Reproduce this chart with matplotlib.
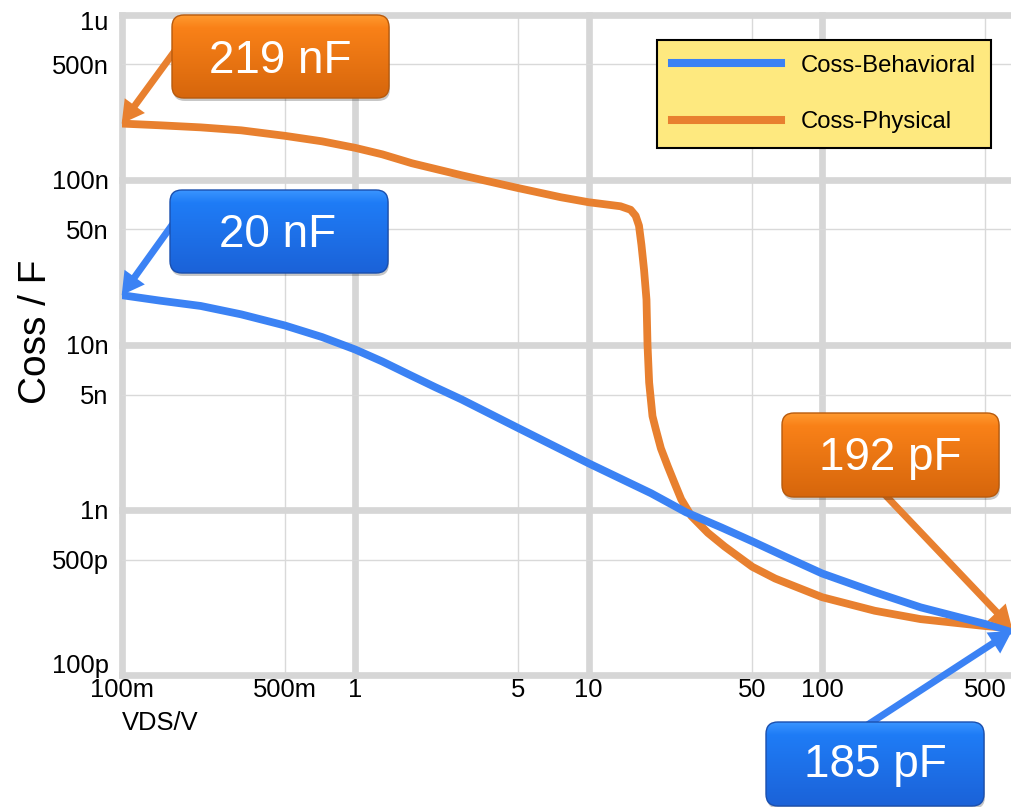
import numpy as np
import matplotlib
matplotlib.use("Agg")
import matplotlib.pyplot as plt
from matplotlib.patches import FancyBboxPatch
from matplotlib.ticker import FixedLocator, FixedFormatter
from matplotlib.colors import to_rgb
from matplotlib.lines import Line2D
from matplotlib.transforms import ScaledTranslation

plt.rcParams['font.family'] = ['Liberation Sans', 'DejaVu Sans']

# ---------------- data ----------------
vds_behavioral = [0.1, 0.147, 0.218, 0.325, 0.5, 0.721, 1.0, 1.306, 1.70, 2.19, 2.854, 4.93,
                  10, 18.5, 26.1, 37.0, 50.2, 70.6, 100, 167.9, 264, 497, 650]
coss_behavioral = [20e-9, 18.5e-9, 17.2e-9, 15.3e-9, 13.1e-9, 11.15e-9, 9.37e-9, 7.93e-9,
                   6.61e-9, 5.56e-9, 4.67e-9, 3.16e-9, 1.915e-9, 1.262e-9, 0.968e-9,
                   0.783e-9, 0.645e-9, 0.5156e-9, 0.412e-9, 0.3176e-9, 0.2569e-9,
                   0.204e-9, 0.185e-9]

vds_physical = [0.1, 0.147, 0.218, 0.325, 0.5, 0.721, 1.0, 1.306, 1.75, 2.854, 4.93, 7.59,
                10, 11.23, 13.69, 15.12, 15.89, 16.42, 16.82, 17.26, 17.68, 17.86, 18.15,
                18.76, 19.38, 20.38, 21.8, 23.27, 24.9, 27.5, 32.4, 38.2, 50.2, 62.9,
                100, 167.9, 264, 497, 650]
coss_physical = [219e-9, 213.7e-9, 207.7e-9, 199.3e-9, 184.6e-9, 171e-9, 156.1e-9, 142.6e-9,
                 125.9e-9, 106.5e-9, 89.4e-9, 78.4e-9, 73.1e-9, 71.6e-9, 69.1e-9, 65.8e-9,
                 60.5e-9, 52.7e-9, 40.4e-9, 28.5e-9, 18.8e-9, 10.04e-9, 5.92e-9, 3.70e-9,
                 3.08e-9, 2.36e-9, 1.84e-9, 1.464e-9, 1.16e-9, 0.919e-9, 0.726e-9,
                 0.6003e-9, 0.4524e-9, 0.3839e-9, 0.2959e-9, 0.245e-9, 0.218e-9,
                 0.198e-9, 0.192e-9]

series_labels = ["Coss-Behavioral", "Coss-Physical"]

x_major = [0.1, 1, 10, 100]
x_major_labels = ["100m", "1", "10", "100"]
x_minor = [0.5, 5, 50, 500]
x_minor_labels = ["500m", "5", "50", "500"]
y_major = [1e-10, 1e-9, 1e-8, 1e-7, 1e-6]
y_major_labels = ["100p", "1n", "10n", "100n", "1u"]
y_minor = [5e-10, 5e-9, 5e-8, 5e-7]
y_minor_labels = ["500p", "5n", "50n", "500n"]

callout_texts = ["219 nF", "20 nF", "192 pF", "185 pF"]

# ---------------- figure ----------------
W, H = 1012, 807
fig = plt.figure(figsize=(W / 100, H / 100), dpi=100)
ax_left, ax_right, ax_bottom, ax_top = 121.7, 1012, 675, 14.7
ax = fig.add_axes([ax_left / W, 1 - ax_bottom / H, (ax_right - ax_left) / W,
                   (ax_bottom - ax_top) / H])
ax.set_xscale('log')
ax.set_yscale('log')
ax.set_xlim(0.1, 650)
ax.set_ylim(1e-10, 1e-6)

BLUE = '#3b82f4'
ORANGE = '#e8802f'

ax.plot(vds_physical, coss_physical, color=ORANGE, lw=5.6, solid_joinstyle='round',
        solid_capstyle='butt', zorder=3)
ax.plot(vds_behavioral, coss_behavioral, color=BLUE, lw=5.6, solid_joinstyle='round',
        solid_capstyle='butt', zorder=4)

ax.xaxis.set_major_locator(FixedLocator(x_major))
ax.xaxis.set_major_formatter(FixedFormatter(x_major_labels))
ax.xaxis.set_minor_locator(FixedLocator(x_minor))
ax.xaxis.set_minor_formatter(FixedFormatter(x_minor_labels))
ax.yaxis.set_major_locator(FixedLocator(y_major))
ax.yaxis.set_major_formatter(FixedFormatter(y_major_labels))
ax.yaxis.set_minor_locator(FixedLocator(y_minor))
ax.yaxis.set_minor_formatter(FixedFormatter(y_minor_labels))

ax.tick_params(axis='both', which='both', length=0, labelsize=18.4, colors='black')
ax.tick_params(axis='x', which='both', pad=2.5)
ax.tick_params(axis='y', which='both', pad=9.5)

ax.grid(True, which='major', color='#d6d6d6', lw=4.8, zorder=0)
ax.grid(True, which='minor', color='#d9d9d9', lw=1.0, zorder=0)
ax.set_axisbelow(True)
for t in ax.xaxis.get_major_ticks() + ax.yaxis.get_major_ticks():
    t.gridline.set_clip_on(False)
for s in ax.spines.values():
    s.set_visible(False)

# nudge the extreme y labels inwards, as in the reference
yticks = ax.yaxis.get_major_ticks()
yticks[0].label1.set_transform(yticks[0].label1.get_transform() +
                               ScaledTranslation(0, 12 / 100, fig.dpi_scale_trans))
yticks[-1].label1.set_transform(yticks[-1].label1.get_transform() +
                                ScaledTranslation(0, -6 / 100, fig.dpi_scale_trans))

ax.set_ylabel("Coss / F", fontsize=28)
ax.yaxis.set_label_coords(-0.0765, 0.52)
ax.set_xlabel("VDS/V", fontsize=18.4, ha='left')
ax.xaxis.set_label_coords(0.0, -0.054)

# legend
handles = [Line2D([], [], color=BLUE, lw=5.8), Line2D([], [], color=ORANGE, lw=5.8)]
leg = ax.legend(handles, series_labels, loc='upper left',
                bbox_to_anchor=(657 / W, 1 - 40 / H), bbox_transform=fig.transFigure,
                borderaxespad=0, fontsize=17.2, handlelength=4.55, handletextpad=0.85,
                labelspacing=1.45, borderpad=0.62, fancybox=False, framealpha=1,
                facecolor='#fee97f', edgecolor='black')
leg.get_frame().set_linewidth(1.5)
leg.set_zorder(6)

# arrows (targets in data coordinates, tails in figure pixels)
def arrow(target, tail_img, color):
    ax.annotate('', xy=target, xycoords='data',
                xytext=(tail_img[0], H - tail_img[1]), textcoords='figure pixels',
                annotation_clip=False,
                arrowprops=dict(arrowstyle='simple,head_length=1.6,head_width=1.8,tail_width=0.5',
                                mutation_scale=10, color=color, lw=0,
                                shrinkA=0, shrinkB=0), zorder=7)

arrow((vds_physical[0], coss_physical[0]), (185, 37), ORANGE)
arrow((vds_behavioral[0], coss_behavioral[0]), (185, 207), BLUE)
arrow((vds_physical[-1], coss_physical[-1]), (870, 479), ORANGE)
arrow((vds_behavioral[-1], coss_behavioral[-1]), (852, 735), BLUE)

# callout boxes (overlay in image pixel coordinates)
ov = fig.add_axes([0, 0, 1, 1], zorder=10)
ov.set_xlim(0, W)
ov.set_ylim(H, 0)
ov.axis('off')
ov.patch.set_visible(False)

def gbox(x0, y0, w, h, c_top, c_mid, c_bot, edge, text, tx, ty):
    style = 'round,pad=0,rounding_size=12'
    shadow = FancyBboxPatch((x0 + 1, y0 + 3), w, h, boxstyle=style, fc='black',
                            ec='none', alpha=0.22, zorder=1)
    ov.add_patch(shadow)
    outline = FancyBboxPatch((x0, y0), w, h, boxstyle=style, fc='none', ec=edge,
                             lw=1.0, zorder=3)
    ov.add_patch(outline)
    n = 200
    t = np.linspace(0, 1, n)
    ct, cm, cb = np.array(to_rgb(c_top)), np.array(to_rgb(c_mid)), np.array(to_rgb(c_bot))
    cols = np.where(t[:, None] < 0.15, ct + (cm - ct) * (t[:, None] / 0.15),
                    cm + (cb - cm) * ((t[:, None] - 0.15) / 0.85))
    img = cols[:, None, :]
    im = ov.imshow(img, extent=(x0, x0 + w, y0 + h, y0), aspect='auto', zorder=2,
                   interpolation='bilinear')
    im.set_clip_path(outline)
    ov.text(tx, ty, text, color='white', fontsize=33, ha='center', va='center', zorder=4)

gbox(172, 15, 217, 83, '#ff9a30', '#f98118', '#d6660c', '#b85a0c', callout_texts[0], 280, 61)
gbox(170, 190, 218, 83, '#3a95ff', '#1f7cf6', '#1b62d8', '#1a4fae', callout_texts[1], 278, 235)
gbox(782, 413, 217, 84, '#ff9a30', '#f98118', '#d6660c', '#b85a0c', callout_texts[2], 890, 458)
gbox(766, 722, 218, 84, '#3a95ff', '#1f7cf6', '#1b62d8', '#1a4fae', callout_texts[3], 875, 765)

ov.set_xlim(0, W)
ov.set_ylim(H, 0)

fig.savefig('out.png', dpi=100)
